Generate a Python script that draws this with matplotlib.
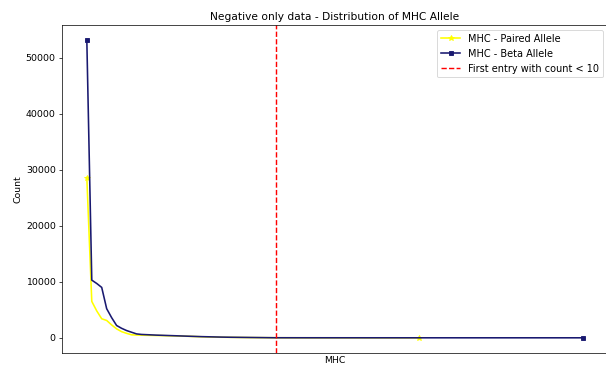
import numpy as np
import matplotlib
matplotlib.use("Agg")
import matplotlib.pyplot as plt

# Counts per allele, sorted descending
paired_counts = [28600, 6500, 4800, 3400, 3100, 2300, 1600, 1100, 800, 540,
                 500, 470, 450, 430, 410, 400, 370, 350, 330, 300,
                 280, 250, 220, 190, 160, 140, 120, 100, 90, 80,
                 70, 60, 50, 40, 35, 30, 25, 20, 15, 12,
                 10, 9, 8, 7, 6, 6, 5, 5, 5, 4,
                 4, 4, 3, 3, 3, 3, 2, 2, 2, 2,
                 2, 2, 1, 1, 1, 1, 1, 1]

beta_counts = [53200, 10300, 9700, 9000, 5200, 3600, 2200, 1700, 1300, 1000,
               700, 600, 560, 520, 480, 450, 420, 390, 360, 330,
               300, 270, 240, 210, 190, 170, 150, 130, 115, 100,
               90, 80, 70, 60, 50, 40, 30, 20, 9, 9,
               8, 8, 7, 7, 6, 6, 6, 5, 5, 5,
               5, 4, 4, 4, 4, 4, 3, 3, 3, 3,
               3, 3, 3, 2, 2, 2, 2, 2, 2, 2,
               2, 2, 2, 2, 2, 1, 1, 1, 1, 1,
               1, 1, 1, 1, 1, 1, 1, 1, 1, 1,
               1, 1, 1, 1, 1, 1, 1, 1, 1, 1,
               1]

threshold = 10
first_below = next(i for i, c in enumerate(beta_counts) if c < threshold)

dpi = 64
fig = plt.figure(figsize=(606 / dpi, 365 / dpi), dpi=dpi)
ax = fig.add_axes([62 / 606, 12.3 / 365, 546 / 606, 327.7 / 365])

ax.plot(range(len(paired_counts)), paired_counts, color="yellow", marker="*",
        markersize=6, markevery=[0, -1], linewidth=1.8, label="MHC - Paired Allele")
ax.plot(range(len(beta_counts)), beta_counts, color="midnightblue", marker="s",
        markersize=5, markevery=[0, -1], linewidth=1.8, label="MHC - Beta Allele")
ax.axvline(first_below + 0.1, color="red", linestyle="--", linewidth=1.6,
           label="First entry with count < 10")

ax.set_xticks([])
ax.tick_params(labelsize=10.5)
ax.set_xlabel("MHC", fontsize=10.5)
ax.set_ylabel("Count", fontsize=10.5)
ax.set_title("Negative only data - Distribution of MHC Allele")
ax.legend(loc="upper right", fontsize=11)

fig.savefig("out.png", dpi=dpi)
plt.close(fig)
